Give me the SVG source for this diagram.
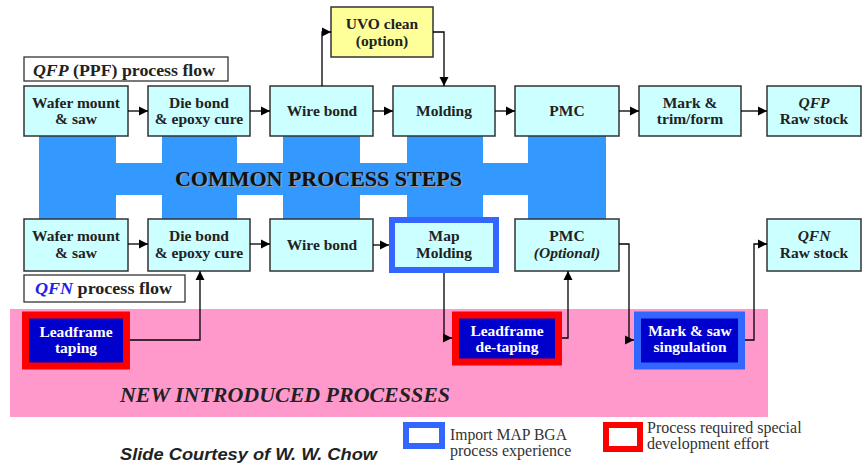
<svg xmlns="http://www.w3.org/2000/svg" width="862" height="463" viewBox="0 0 862 463">
<defs>
<marker id="ah" markerUnits="userSpaceOnUse" markerWidth="10" markerHeight="10" refX="9" refY="5" orient="auto">
<path d="M0,0.5 L9,5 L0,9.5 Z" fill="#000"/>
</marker>
<style>
text{font-family:"Times New Roman","Liberation Serif","DejaVu Serif",serif}
.box{fill:#CCFFFF;stroke:#333;stroke-width:1.5}
.t{font-weight:bold;font-size:15.5px;fill:#222;text-anchor:middle}
.w{fill:#fff}
.c{fill:none;stroke:#000;stroke-width:1.3;marker-end:url(#ah)}
.lg{font-size:16px;fill:#333}
.sans{font-family:"Liberation Sans",Arial,sans-serif}
</style>
</defs>
<rect width="862" height="463" fill="#fff"/>

<!-- pink region -->
<rect id="new-region" x="10" y="309" width="758" height="108" fill="#FF99CC"/>

<!-- common band -->
<g id="common">
<rect x="39" y="163" width="567" height="32" fill="#3399FF"/>
<rect x="39" y="136" width="77" height="83" fill="#3399FF"/>
<rect x="162" y="136" width="75" height="83" fill="#3399FF"/>
<rect x="283" y="136" width="77" height="83" fill="#3399FF"/>
<rect x="407" y="136" width="76" height="83" fill="#3399FF"/>
<rect x="528" y="136" width="78" height="83" fill="#3399FF"/>
<text x="176" y="187" font-weight="bold" font-size="20" fill="#999" textLength="287" lengthAdjust="spacingAndGlyphs">COMMON PROCESS STEPS</text>
<text x="175" y="186" font-weight="bold" font-size="20" fill="#111" textLength="287" lengthAdjust="spacingAndGlyphs">COMMON PROCESS STEPS</text>
</g>

<!-- labels -->
<g id="qfp-label">
<rect x="24" y="57" width="204" height="24" fill="#fff" stroke="#333" stroke-width="1.3"/>
<text x="33" y="76" font-weight="bold" font-size="16" fill="#222" textLength="182" lengthAdjust="spacingAndGlyphs"><tspan font-style="italic">QFP</tspan> (PPF) process flow</text>
</g>
<g id="qfn-label">
<rect x="24" y="275" width="161" height="27" fill="#fff" stroke="#333" stroke-width="1.3"/>
<text x="35" y="294" font-weight="bold" font-size="16" fill="#222" textLength="137" lengthAdjust="spacingAndGlyphs"><tspan font-style="italic" fill="#2222EE">QFN</tspan>  process flow</text>
</g>

<!-- top row -->
<g id="uvo"><rect x="331" y="7" width="102" height="50" fill="#FFFF99" stroke="#333" stroke-width="1.5"/><text class="t" x="382" y="29">UVO clean</text><text class="t" x="382" y="46">(option)</text></g>
<g id="qfp-wafer"><rect class="box" x="24" y="86" width="104" height="50"/><text class="t" x="76" y="108">Wafer mount</text><text class="t" x="76" y="124">&amp; saw</text></g>
<g id="qfp-die"><rect class="box" x="148" y="86" width="102" height="50"/><text class="t" x="199" y="108">Die bond</text><text class="t" x="199" y="124">&amp; epoxy cure</text></g>
<g id="qfp-wire"><rect class="box" x="270" y="86" width="103" height="50"/><text class="t" x="322" y="116">Wire bond</text></g>
<g id="qfp-molding"><rect class="box" x="393" y="86" width="102" height="50"/><text class="t" x="444" y="116">Molding</text></g>
<g id="qfp-pmc"><rect class="box" x="515" y="86" width="104" height="50"/><text class="t" x="567" y="116">PMC</text></g>
<g id="qfp-mark"><rect class="box" x="639" y="86" width="102" height="50"/><text class="t" x="690" y="108">Mark &amp;</text><text class="t" x="690" y="124">trim/form</text></g>
<g id="qfp-raw"><rect class="box" x="767" y="86" width="94" height="50"/><text class="t" x="814" y="108" font-style="italic">QFP</text><text class="t" x="814" y="124">Raw stock</text></g>

<!-- bottom row -->
<g id="qfn-wafer"><rect class="box" x="24" y="219" width="104" height="52"/><text class="t" x="76" y="241">Wafer mount</text><text class="t" x="76" y="258">&amp; saw</text></g>
<g id="qfn-die"><rect class="box" x="148" y="219" width="102" height="52"/><text class="t" x="199" y="241">Die bond</text><text class="t" x="199" y="258">&amp; epoxy cure</text></g>
<g id="qfn-wire"><rect class="box" x="270" y="219" width="103" height="52"/><text class="t" x="322" y="250">Wire bond</text></g>
<g id="qfn-map"><rect x="392" y="220" width="104" height="50" fill="#CCFFFF" stroke="#3366FF" stroke-width="6"/><text class="t" x="444" y="241">Map</text><text class="t" x="444" y="258">Molding</text></g>
<g id="qfn-pmc"><rect class="box" x="515" y="219" width="104" height="52"/><text class="t" x="567" y="241">PMC</text><text class="t" x="567" y="258" font-style="italic">(Optional)</text></g>
<g id="qfn-raw"><rect class="box" x="767" y="219" width="94" height="52"/><text class="t" x="814" y="241" font-style="italic" fill="#2222EE">QFN</text><text class="t" x="814" y="258">Raw stock</text></g>

<!-- new processes -->
<g id="lf-taping"><rect x="25.5" y="315" width="101" height="51" fill="#0000CC" stroke="#FF0000" stroke-width="7"/><text class="t w" x="76" y="337">Leadframe</text><text class="t w" x="76" y="353">taping</text></g>
<g id="lf-detaping"><rect x="455.5" y="315" width="103" height="47" fill="#0000CC" stroke="#FF0000" stroke-width="7"/><text class="t w" x="507" y="336">Leadframe</text><text class="t w" x="507" y="352">de-taping</text></g>
<g id="mark-saw"><rect x="637.5" y="315" width="104" height="51" fill="#0000CC" stroke="#3366FF" stroke-width="7"/><text class="t w" x="690" y="336">Mark &amp; saw</text><text class="t w" x="690" y="352">singulation</text></g>

<text x="120" y="402" font-weight="bold" font-style="italic" font-size="20" fill="#222" textLength="330" lengthAdjust="spacingAndGlyphs">NEW INTRODUCED PROCESSES</text>

<!-- connectors -->
<g id="connectors">
<path class="c" d="M128,111 H148"/>
<path class="c" d="M250,111 H270"/>
<path class="c" d="M373,111 H393"/>
<path class="c" d="M495,111 H515"/>
<path class="c" d="M619,111 H639"/>
<path class="c" d="M741,111 H767"/>
<path class="c" d="M322,86 V32 H331"/>
<path class="c" d="M433,32 H444 V86"/>
<path class="c" d="M128,244 H148"/>
<path class="c" d="M250,244 H270"/>
<path class="c" d="M373,245 H389"/>
<path class="c" d="M130,340 H200 V271"/>
<path class="c" d="M444,273 V338 H452"/>
<path class="c" d="M562,338 H568 V271"/>
<path class="c" d="M619,244 H629 V340 H634"/>
<path class="c" d="M745,340 H754 V244 H767"/>
</g>

<!-- legend -->
<g id="legend-blue"><rect x="406" y="425" width="36" height="21" fill="#fff" stroke="#3366FF" stroke-width="6"/><text class="lg" x="450" y="440" textLength="117" lengthAdjust="spacingAndGlyphs">Import MAP BGA</text><text class="lg" x="450" y="456">process experience</text></g>
<g id="legend-red"><rect x="606" y="425" width="34" height="24" fill="#fff" stroke="#FF0000" stroke-width="6"/><text class="lg" x="647" y="433">Process required special</text><text class="lg" x="647" y="449">development effort</text></g>

<text class="sans" x="120" y="460" font-weight="bold" font-style="italic" font-size="16" fill="#222" textLength="257" lengthAdjust="spacingAndGlyphs">Slide Courtesy of W. W. Chow</text>
</svg>
